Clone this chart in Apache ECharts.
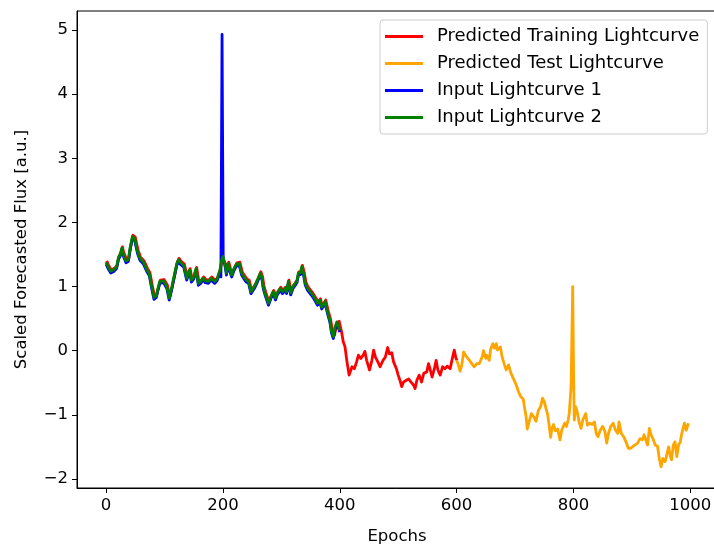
<!DOCTYPE html>
<html>
<head>
<meta charset="utf-8">
<script src="https://cdn.jsdelivr.net/npm/echarts@6/dist/echarts.min.js"></script>
<style>html,body{margin:0;padding:0;background:#fff;}#c{width:714px;height:546px;}</style>
</head>
<body>
<div id="c"></div>
<script>
// ---- data ----
const xTicks = [0, 200, 400, 600, 800, 1000];
const yTicks = [-2, -1, 0, 1, 2, 3, 4, 5];

const greenEpochs = [0,4,8,10,14,18,21,24,27,29,32,34,38,41,45,49,52,54,58,61,64,67,70,74,78,82,86,89,92,95,98,101,104,108,112,115,118,121,124,127,130,133,135,138,141,143,146,150,154,158,162,166,170,175,180,183,186,190,192,195,198,200,204,206,209,212,215,219,223,225,228,232,236,240,244,248,251,255,259,264,267,269,272,275,278,282,286,290,293,298,302,306,309,312,316,320,324,327,329,333,335,338,341,345,348,352,355,358,362,366,369,372,375,379,383,386,389,392,395,398,400];
const greenValues = [1.38,1.30,1.24,1.23,1.27,1.31,1.45,1.50,1.60,1.52,1.45,1.40,1.42,1.60,1.78,1.75,1.62,1.54,1.44,1.42,1.38,1.36,1.26,1.20,1.00,0.83,0.86,0.98,1.08,1.06,1.09,1.05,1.00,0.82,0.97,1.10,1.23,1.36,1.42,1.38,1.38,1.33,1.30,1.13,1.22,1.26,1.10,1.15,1.28,1.05,1.08,1.13,1.09,1.08,1.13,1.10,1.08,1.12,1.15,1.26,1.42,1.47,1.33,1.21,1.36,1.26,1.18,1.28,1.35,1.37,1.36,1.21,1.15,1.10,1.08,0.92,0.90,1.02,1.10,1.21,1.13,1.00,0.90,0.82,0.74,0.84,0.92,0.82,0.90,0.97,0.92,0.97,0.92,1.08,0.90,1.00,1.05,1.10,1.21,1.22,1.31,1.21,1.05,0.97,1.00,0.89,0.85,0.82,0.74,0.79,0.68,0.72,0.77,0.61,0.48,0.30,0.22,0.37,0.45,0.45,0.32];

const blueEpochs = [0,4,8,10,14,18,21,24,27,29,32,34,38,41,45,49,52,54,58,61,64,67,70,74,78,82,86,89,92,95,98,101,104,108,112,115,118,121,124,127,130,133,135,138,141,143,146,150,154,158,162,166,170,175,180,183,186,190,192,195,196.5,198.5,200.5,204,206,209,212,215,219,223,225,228,232,236,240,244,248,251,255,259,264,267,269,272,275,278,282,286,290,293,298,302,306,309,312,316,320,324,327,329,333,335,338,341,345,348,352,355,358,362,366,369,372,375,379,383,386,389,392,395,398,400];
const blueValues = [1.35,1.27,1.21,1.20,1.24,1.28,1.42,1.47,1.57,1.49,1.42,1.37,1.39,1.57,1.75,1.72,1.59,1.51,1.41,1.39,1.35,1.33,1.23,1.17,0.97,0.80,0.83,0.95,1.05,1.03,1.06,1.02,0.97,0.79,0.94,1.07,1.20,1.33,1.39,1.35,1.35,1.30,1.27,1.10,1.19,1.23,1.07,1.12,1.25,1.02,1.05,1.10,1.06,1.05,1.10,1.07,1.05,1.09,1.12,1.22,1.15,4.93,1.45,1.30,1.18,1.33,1.23,1.15,1.25,1.32,1.34,1.33,1.18,1.12,1.07,1.05,0.89,0.87,0.99,1.07,1.18,1.10,0.97,0.87,0.79,0.71,0.81,0.89,0.79,0.87,0.94,0.89,0.94,0.89,1.05,0.87,0.97,1.02,1.07,1.18,1.19,1.28,1.18,1.02,0.94,0.97,0.86,0.82,0.79,0.71,0.76,0.65,0.69,0.74,0.58,0.45,0.27,0.19,0.34,0.42,0.42,0.29];

const trainEpochs = [1,5,9,11,15,19,22,25,28,30,33,35,39,42,46,50,53,55,59,62,65,68,71,75,79,83,87,90,93,96,99,102,105,109,113,116,119,122,125,128,131,134,136,139,142,144,147,151,155,159,163,167,171,176,181,184,187,191,193,196,199,201,205,207,210,213,216,220,224,226,229,233,237,241,245,249,252,256,260,265,268,270,273,276,279,283,287,291,294,299,303,307,310,313,317,321,325,328,330,334,336,339,342,346,349,353,356,359,363,367,370,373,376,380,384,388,391,395,399,403,406,409,412,416,419,421,425,429,432,436,440,443,446,451,455,458,461,465,469,474,478,482,485,489,492,497,500,503,506,509,514,518,522,526,529,532,536,540,544,549,552,555,558,562,565,568,572,576,580,584,589,592,596,599,601];
const trainValues = [1.40,1.32,1.26,1.25,1.29,1.33,1.47,1.52,1.62,1.54,1.47,1.42,1.44,1.62,1.80,1.77,1.64,1.56,1.46,1.44,1.40,1.38,1.28,1.22,1.02,0.85,0.88,1.00,1.10,1.08,1.11,1.07,1.02,0.84,0.99,1.12,1.25,1.38,1.44,1.40,1.40,1.35,1.32,1.15,1.24,1.28,1.12,1.17,1.30,1.07,1.10,1.15,1.11,1.10,1.15,1.12,1.10,1.14,1.17,1.28,1.44,1.45,1.35,1.23,1.38,1.28,1.20,1.30,1.37,1.39,1.38,1.23,1.17,1.12,1.10,0.94,0.92,1.04,1.12,1.23,1.15,1.02,0.92,0.84,0.76,0.86,0.94,0.84,0.92,0.99,0.94,0.99,0.94,1.10,0.92,1.02,1.07,1.12,1.23,1.24,1.33,1.23,1.07,0.99,1.02,0.91,0.87,0.84,0.76,0.81,0.70,0.74,0.79,0.63,0.50,0.30,0.24,0.42,0.46,0.30,0.14,0.06,-0.15,-0.38,-0.35,-0.25,-0.28,-0.17,-0.07,-0.12,-0.07,-0.01,-0.15,-0.30,-0.15,0.01,-0.10,-0.17,-0.25,-0.15,-0.10,0.05,-0.05,-0.03,-0.17,-0.28,-0.38,-0.46,-0.56,-0.49,-0.46,-0.44,-0.49,-0.53,-0.59,-0.46,-0.38,-0.49,-0.35,-0.33,-0.20,-0.30,-0.41,-0.28,-0.15,-0.30,-0.38,-0.25,-0.28,-0.24,-0.28,-0.15,0.01,-0.12,-0.15];

const testEpochs = [600,603,606,609,612,616,622,626,630,635,639,644,646,650,652,656,658,662,665,668,670,675,678,682,685,689,693,698,702,706,710,714,716,719,721,725,728,732,736,740,744,747,750,753,756,759,761,763,766,769,773,777,780,782,785,788,791,793,796,798.8,800.3,801.5,803.6,807,809.5,813,816,821,824,828,832,836,839,842,846,850,854,857,860,864,868,872,876,878,882,886,890,894,898,902,905,910,914,918,921,925,927,930,933,937,940,944,947,950,953,957,960,963,966,968,971,974,977,980,983,985,990,993,997];
const testValues = [-0.15,-0.22,-0.32,-0.22,-0.02,-0.08,-0.15,-0.20,-0.25,-0.20,-0.20,-0.09,0.00,-0.12,-0.07,-0.15,0.01,0.11,0.04,0.11,0.01,0.06,-0.10,-0.22,-0.30,-0.22,-0.35,-0.45,-0.53,-0.64,-0.72,-0.75,-0.87,-1.03,-1.22,-1.08,-0.98,-1.03,-1.10,-0.93,-0.87,-0.74,-0.79,-0.90,-1.00,-1.20,-1.35,-1.22,-1.15,-1.25,-1.22,-1.39,-1.24,-1.21,-1.13,-1.18,-1.08,-0.97,-0.55,1.00,-0.40,-1.08,-0.87,-0.97,-1.10,-1.21,-1.08,-0.98,-1.16,-1.13,-1.15,-1.11,-1.29,-1.34,-1.24,-1.18,-1.26,-1.44,-1.29,-1.18,-1.13,-1.24,-1.29,-1.11,-1.29,-1.34,-1.42,-1.52,-1.52,-1.49,-1.52,-1.44,-1.37,-1.39,-1.31,-1.42,-1.47,-1.21,-1.31,-1.39,-1.47,-1.49,-1.68,-1.81,-1.68,-1.73,-1.73,-1.50,-1.65,-1.70,-1.47,-1.42,-1.65,-1.47,-1.42,-1.31,-1.13,-1.24,-1.13];

// ---- chart ----
function pairs(xs, ys) {
  const n = Math.min(xs.length, ys.length);
  const out = [];
  for (let i = 0; i < n; i++) out.push([xs[i], ys[i]]);
  return out;
}
const FONT = 'DejaVu Sans';
const chart = echarts.init(document.getElementById('c'), null, {renderer: 'canvas'});
function lineSeries(name, color, xs, ys) {
  return {
    name: name, type: 'line', data: pairs(xs, ys),
    showSymbol: false, symbol: 'none',
    lineStyle: {color: color, width: 2.8, join: 'round'},
    itemStyle: {color: color},
    animation: false, silent: true
  };
}
chart.setOption({
  animation: false,
  backgroundColor: '#fff',
  textStyle: {fontFamily: FONT},
  grid: {left: 77, top: 11, width: 640, height: 477, containLabel: false, outerBoundsMode: 'none',
    show: true, borderColor: '#000', borderWidth: 1, backgroundColor: 'transparent'},
  legend: {
    orient: 'vertical', left: 380, top: 20,
    padding: [6, 8, 6, 5],
    itemWidth: 38, itemHeight: 3, itemGap: 6,
    icon: 'rect',
    borderColor: '#cccccc', borderWidth: 1, borderRadius: 3,
    backgroundColor: 'rgba(255,255,255,0.8)',
    textStyle: {fontFamily: FONT, fontSize: 18, color: '#000', lineHeight: 21, padding: [0, 0, 0, 9]},
    data: ['Predicted Training Lightcurve', 'Predicted Test Lightcurve', 'Input Lightcurve 1', 'Input Lightcurve 2']
  },
  xAxis: {
    type: 'value', min: -49.8, max: 1045.8,
    name: 'Epochs', nameLocation: 'middle', nameGap: 40,
    nameTextStyle: {fontFamily: FONT, fontSize: 16.5, color: '#000'},
    axisLine: {show: true, onZero: false, lineStyle: {color: '#000', width: 1}},
    axisTick: {show: true, length: 5, lineStyle: {color: '#000', width: 1}, customValues: xTicks},
    axisLabel: {fontFamily: FONT, fontSize: 16.5, color: '#000', margin: 9, customValues: xTicks,
      formatter: v => String(v)},
    splitLine: {show: false}
  },
  yAxis: {
    type: 'value', min: -2.14, max: 5.296,
    name: 'Scaled Forecasted Flux [a.u.]', nameLocation: 'middle', nameGap: 47,
    nameTextStyle: {fontFamily: FONT, fontSize: 16.5, color: '#000'},
    axisLine: {show: true, onZero: false, lineStyle: {color: '#000', width: 1}},
    axisTick: {show: true, length: 5, lineStyle: {color: '#000', width: 1}, customValues: yTicks},
    axisLabel: {fontFamily: FONT, fontSize: 16.5, color: '#000', margin: 9, customValues: yTicks,
      formatter: v => (v < 0 ? '\u2212' + Math.abs(v) : String(v))},
    splitLine: {show: false}
  },
  series: [
    lineSeries('Predicted Training Lightcurve', '#ff0000', trainEpochs, trainValues),
    lineSeries('Predicted Test Lightcurve', '#ffa500', testEpochs, testValues),
    lineSeries('Input Lightcurve 1', '#0000ff', blueEpochs, blueValues),
    lineSeries('Input Lightcurve 2', '#008000', greenEpochs, greenValues)
  ]
});
</script>
</body>
</html>
